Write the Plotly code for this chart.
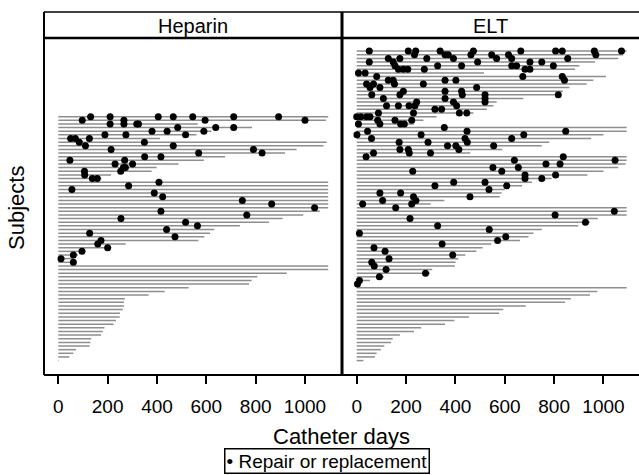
import plotly.graph_objects as go

# ---------------- data (rows listed top -> bottom) ----------------
panels = ["Heparin", "ELT"]
tick_vals = [0, 200, 400, 600, 800, 1000]

heparin_days = [1094, 1085, 565, 785, 620, 560, 412, 1088, 1075, 966, 919, 676, 590, 487, 399, 378, 214, 175,
                1094, 1094, 1094, 1094, 1094, 1094, 1094, 1094, 1060, 993, 909, 854, 736, 632, 615, 592, 568, 273,
                215, 110, 80, 62, 65,
                1094, 1094, 926, 807, 784, 773, 528, 431, 366, 270, 266, 266, 261, 250, 249, 234, 224, 187, 180,
                173, 133, 130, 127, 72, 61, 45, 2]

heparin_events = [[131, 210, 405, 466, 545, 711, 893], [97, 266, 595, 1000], [210, 266, 318, 325],
                  [484, 638, 711], [380, 441, 590], [189, 274, 516], [50, 69, 126], [85, 349], [110, 466],
                  [214, 791], [569, 826], [350, 416], [47, 269], [230, 301], [264, 272], [106, 253], [107],
                  [138, 158], [408], [285], [55], [389], [423], [746], [865], [1039], [416], [764], [254], [516],
                  [564], [439], [127], [473], [173], [160], [200], [96], [61], [11], [61]] + [[] for _ in range(27)]

elt_days = [1094, 1080, 1060, 966, 902, 885, 516, 1010, 959, 932, 862, 835, 824, 675, 567, 554, 527, 473, 324, 270, 232,
            1094, 1094, 1000, 950, 780, 750, 590, 460,
            1094, 1094, 1090, 1060, 1000, 935, 790, 710, 670, 600, 587, 580, 355, 300,
            1094, 1094, 1094, 977, 945, 898, 750, 716, 696, 662, 545, 510, 485, 440, 412, 401, 398, 306, 297, 110, 54, 5,
            1094, 975, 945, 868, 844, 685, 594, 577, 455, 396, 358, 261, 232, 175, 146, 139, 112, 98, 81, 74, 27]

elt_events = [[51, 209, 239, 338, 473, 665, 806, 833, 963, 1073], [234, 358, 371, 463, 547, 615, 969],
              [128, 175, 284, 392, 567, 628, 855], [51, 148, 490, 702, 750], [155, 328, 425, 628, 648, 797],
              [169, 189, 207, 274, 682, 702], [7, 34], [81, 673, 833], [128, 148, 358, 402, 842], [40, 68, 153, 270],
              [54, 94, 486], [189, 358, 425], [61, 175, 428, 520, 817], [108, 358, 520], [243, 392, 520],
              [121, 169, 212, 236, 405], [317, 344], [88, 230, 416, 446], [0, 17, 40, 54], [85, 155, 223],
              [7, 94, 178, 193],
              [355], [44, 447, 847], [1, 261, 677], [60, 439, 628], [172, 289, 448], [368, 402, 555],
              [175, 209, 414], [68, 213, 299],
              [38, 837], [639, 1047], [767, 824], [552, 655], [227, 588], [682, 806], [682, 750], [393, 520],
              [317, 608], [536], [94, 178], [230, 459], [105, 240], [24, 223],
              [158], [1044], [804], [216], [927], [328], [537], [11], [604], [571], [346], [70], [115], [389],
              [131], [61], [71], [119], [279], [92], [11], [3]] + [[] for _ in range(21)]

# ---------------- figure ----------------
W, H = 639, 475
ML, MR, MT, MB = 44, 0, 38, 100
PW = W - ML - MR
PH = H - MT - MB
split = 298 / PW
strip_top = 1 + 26 / PH
FONT = "Liberation Sans, Arial, sans-serif"

fig = go.Figure()

def add_panel(days, events, xa, ya):
    n = len(days)
    lx, ly, dx, dy = [], [], [], []
    for r, (d, ev) in enumerate(zip(days, events)):
        y = n - r
        lx += [0, d, None]
        ly += [y, y, None]
        for e in ev:
            dx.append(e)
            dy.append(y)
    fig.add_trace(go.Scatter(x=lx, y=ly, mode="lines", line=dict(color="#8e8e8e", width=1.5),
                             xaxis=xa, yaxis=ya, showlegend=False, hoverinfo="skip"))
    fig.add_trace(go.Scatter(x=dx, y=dy, mode="markers", marker=dict(color="black", size=7),
                             xaxis=xa, yaxis=ya, showlegend=False, name="Repair or replacement"))

add_panel(heparin_days, heparin_events, "x", "y")
add_panel(elt_days, elt_events, "x2", "y2")

ax_common = dict(tickvals=tick_vals, ticks="outside", ticklen=8, tickwidth=1.5, tickcolor="black",
                 showgrid=False, zeroline=False, showline=False,
                 tickfont=dict(family=FONT, size=19, color="black"), ticklabelstandoff=6)
yrange = [-2.96, 89.6]

fig.update_layout(
    width=W, height=H,
    margin=dict(l=ML, r=MR, t=MT, b=MB, pad=0),
    paper_bgcolor="white", plot_bgcolor="white",
    xaxis=dict(domain=[0, split], range=[-58, 1150], **ax_common),
    xaxis2=dict(domain=[split, 1], range=[-59.6, 1144], anchor="y2", **ax_common),
    yaxis=dict(range=yrange, visible=False),
    yaxis2=dict(range=yrange, visible=False, anchor="x2", matches="y"),
    showlegend=False,
)

line_k = dict(color="black")
shapes = [
    dict(type="line", xref="paper", yref="paper", x0=0, x1=0, y0=0, y1=strip_top, line=dict(width=2, **line_k)),
    dict(type="line", xref="paper", yref="paper", x0=0, x1=1, y0=0, y1=0, line=dict(width=2, **line_k)),
    dict(type="line", xref="paper", yref="paper", x0=0, x1=1, y0=strip_top, y1=strip_top, line=dict(width=1.5, **line_k)),
    dict(type="line", xref="paper", yref="paper", x0=0, x1=1, y0=1, y1=1, line=dict(width=2.5, **line_k)),
    dict(type="line", xref="paper", yref="paper", x0=split, x1=split, y0=0, y1=strip_top, line=dict(width=3, **line_k)),
]
fig.update_layout(shapes=shapes)

def px_y(py):
    return (H - MB - py) / PH

def px_x(px):
    return (px - ML) / PW

annotations = [
    dict(text=panels[0], x=split / 2, y=1 + 12.5 / PH, xref="paper", yref="paper", showarrow=False,
         xanchor="center", yanchor="middle", font=dict(family=FONT, size=20, color="black")),
    dict(text=panels[1], x=(split + 1) / 2, y=1 + 12.5 / PH, xref="paper", yref="paper", showarrow=False,
         xanchor="center", yanchor="middle", font=dict(family=FONT, size=20, color="black")),
    dict(text="Catheter days", x=0.5, y=px_y(437), xref="paper", yref="paper", showarrow=False,
         xanchor="center", yanchor="middle", font=dict(family=FONT, size=22, color="black")),
    dict(text="Subjects", x=px_x(16), y=px_y(208), xref="paper", yref="paper", showarrow=False,
         textangle=-90, xanchor="center", yanchor="middle", font=dict(family=FONT, size=22, color="black")),
    dict(text="\u2022 Repair or replacement", x=px_x(327), y=px_y(461), xref="paper", yref="paper",
         showarrow=False, xanchor="center", yanchor="middle", bordercolor="black", borderwidth=1.5,
         borderpad=1, bgcolor="white", font=dict(family=FONT, size=19, color="black")),
]
fig.update_layout(annotations=annotations)

fig.write_html("out.html", config={"displayModeBar": False},
               post_script="document.body.style.margin='0px';document.body.style.overflow='hidden';")
